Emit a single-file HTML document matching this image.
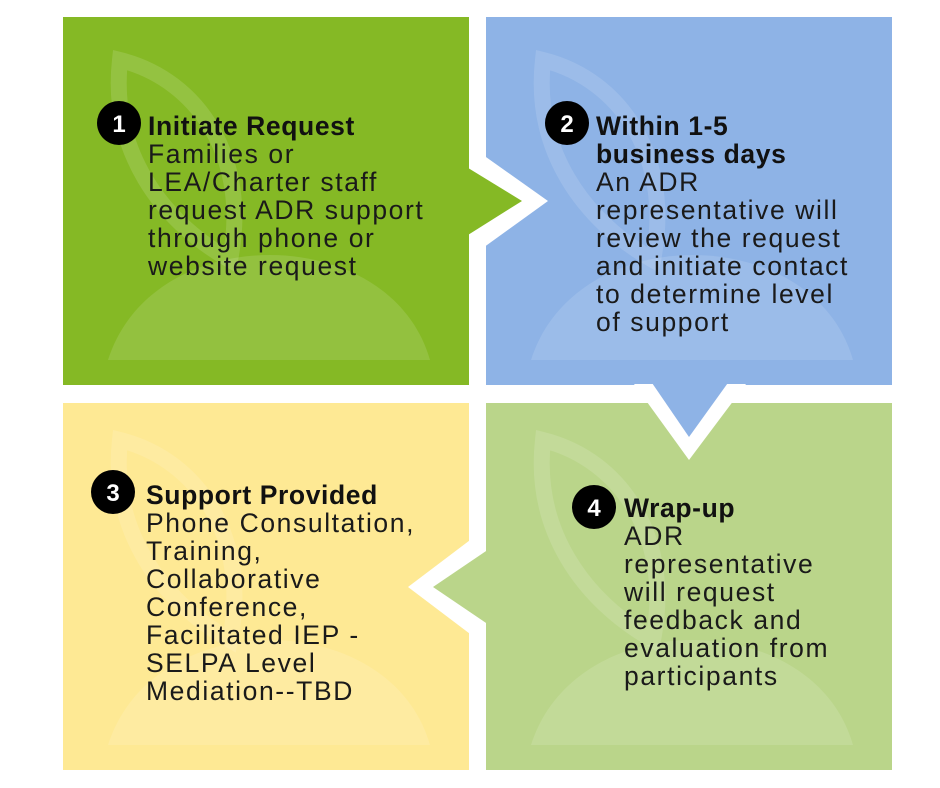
<!DOCTYPE html>
<html><head><meta charset="utf-8"><style>
html,body{margin:0;padding:0;background:#fff;}
svg{display:block}
text{font-family:"Liberation Sans",sans-serif;font-size:26.5px;fill:#1a1a1a;letter-spacing:1.6px}
.b{font-weight:bold;fill:#111;letter-spacing:0.6px}
.n{font-weight:bold;fill:#fff;font-size:24px;letter-spacing:0}
</style></head><body>
<svg width="940" height="788" viewBox="0 0 940 788">
<rect width="940" height="788" fill="#fff"/>
<rect x="63" y="17" width="406" height="368" fill="#85b925"/>
<rect x="486" y="17" width="406" height="368" fill="#8eb3e6"/>
<rect x="63" y="403" width="406" height="367" fill="#fee994"/>
<rect x="486" y="403" width="406" height="367" fill="#bad58a"/>
<g fill="none" stroke="rgba(255,255,255,0.13)" stroke-width="16">
<path d="M120 60 C200 80 250 160 230 260 C160 220 110 150 120 60Z"/>
<path d="M543 60 C623 80 673 160 653 260 C583 220 533 150 543 60Z"/>
<path d="M120 440 C200 460 250 540 230 640 C160 600 110 530 120 440Z"/>
<path d="M543 440 C623 460 673 540 653 640 C583 600 533 530 543 440Z"/>
</g>
<g fill="rgba(255,255,255,0.12)">
<path d="M108 360 C130 290 200 255 270 255 C340 255 410 290 430 360Z"/>
<path d="M531 360 C553 290 623 255 693 255 C763 255 833 290 853 360Z"/>
<path d="M108 745 C130 675 200 640 270 640 C340 640 410 675 430 745Z"/>
<path d="M531 745 C553 675 623 640 693 640 C763 640 833 675 853 745Z"/>
</g>
<polygon points="469,145 548,201 469,258" fill="#fff"/>
<polygon points="460,163 522,201 460,240" fill="#85b925"/>
<polygon points="634,384 689,460 746,384" fill="#fff"/>
<polygon points="650,380 689,437 730,380" fill="#8eb3e6"/>
<polygon points="486,528 408,587 486,646" fill="#fff"/>
<polygon points="492,547 433,587 492,627" fill="#bad58a"/>
<rect x="469" y="17" width="17" height="128" fill="#fff"/>
<rect x="469" y="258" width="17" height="127" fill="#fff"/>
<circle cx="119" cy="123" r="22" fill="#000"/><text class="n" x="119" y="132" text-anchor="middle">1</text>
<circle cx="567" cy="123" r="22" fill="#000"/><text class="n" x="567" y="132" text-anchor="middle">2</text>
<circle cx="113" cy="492" r="22" fill="#000"/><text class="n" x="113" y="501" text-anchor="middle">3</text>
<circle cx="594" cy="507" r="22" fill="#000"/><text class="n" x="594" y="516" text-anchor="middle">4</text>
<text x="148" y="135"><tspan class="b">Initiate Request</tspan><tspan x="148" dy="28">Families or</tspan><tspan x="148" dy="28">LEA/Charter staff</tspan><tspan x="148" dy="28">request ADR support</tspan><tspan x="148" dy="28">through phone or</tspan><tspan x="148" dy="28">website request</tspan></text>
<text x="596" y="135"><tspan class="b">Within 1-5</tspan><tspan class="b" x="596" dy="28">business days</tspan><tspan x="596" dy="28">An ADR</tspan><tspan x="596" dy="28">representative will</tspan><tspan x="596" dy="28">review the request</tspan><tspan x="596" dy="28">and initiate contact</tspan><tspan x="596" dy="28">to determine level</tspan><tspan x="596" dy="28">of support</tspan></text>
<text x="146" y="504"><tspan class="b">Support Provided</tspan><tspan x="146" dy="28">Phone Consultation,</tspan><tspan x="146" dy="28">Training,</tspan><tspan x="146" dy="28">Collaborative</tspan><tspan x="146" dy="28">Conference,</tspan><tspan x="146" dy="28">Facilitated IEP -</tspan><tspan x="146" dy="28">SELPA Level</tspan><tspan x="146" dy="28">Mediation--TBD</tspan></text>
<text x="624" y="517"><tspan class="b">Wrap-up</tspan><tspan x="624" dy="28">ADR</tspan><tspan x="624" dy="28">representative</tspan><tspan x="624" dy="28">will request</tspan><tspan x="624" dy="28">feedback and</tspan><tspan x="624" dy="28">evaluation from</tspan><tspan x="624" dy="28">participants</tspan></text>
</svg>
</body></html>
